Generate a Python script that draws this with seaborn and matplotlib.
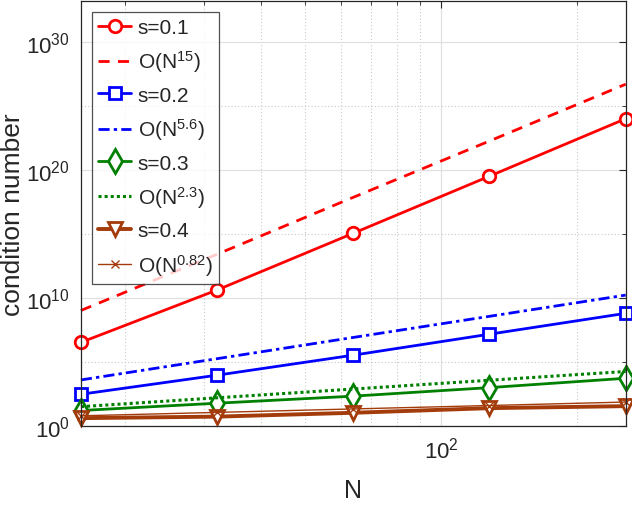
import numpy as np
import pandas as pd
import matplotlib
matplotlib.use("Agg")
import matplotlib.pyplot as plt
import seaborn as sns

# problem sizes
N = [16, 32, 64, 128, 256]

# condition numbers
cond_s01 = [3.2e6, 4.0e10, 1.1e15, 3.2e19, 1.0e24]
cond_s02 = [2.8e2, 8.7e3, 3.2e5, 1.4e7, 6.0e8]
cond_s03 = [15, 56, 200, 930, 5.0e3]
cond_s04 = [3.8, 5.0, 10, 23, 33]

# reference slopes
ref_15 = [1.0e9, 2.5e13, 7.1e17, 1.8e22, 5.0e26]
ref_56 = [3.7e3, 1.7e5, 7.8e6, 3.5e8, 1.6e10]
ref_23 = [30, 148, 720, 3.5e3, 1.7e4]
ref_082 = [5.8, 10.7, 20, 37, 69]

labels = ["s=0.1", r"O(N$^{15}$)", "s=0.2", r"O(N$^{5.6}$)",
          "s=0.3", r"O(N$^{2.3}$)", "s=0.4", r"O(N$^{0.82}$)"]

sns.set_style("white")
plt.rcParams["font.family"] = ["Liberation Sans", "DejaVu Sans"]
plt.rcParams["mathtext.fontset"] = "custom"
plt.rcParams["mathtext.rm"] = "Liberation Sans"
plt.rcParams["mathtext.it"] = "Liberation Sans"

red = "#ff0000"
blue = "#0000ff"
green = "#008000"
brown = "#a33b0b"

fig = plt.figure(figsize=(6.32, 5.06), dpi=100)
ax = fig.add_axes([0.128, 0.157, 0.862, 0.839])

series = [
    (cond_s01, dict(color=red, lw=2.0, marker="o", ms=9, mfc="white", mec=red, mew=2.0, ls="-")),
    (ref_15, dict(color=red, lw=2.0, ls=(0, (4, 3)))),
    (cond_s02, dict(color=blue, lw=2.0, marker="s", ms=8, mfc="white", mec=blue, mew=2.0, ls="-")),
    (ref_56, dict(color=blue, lw=2.0, ls=(0, (4, 1.5, 1.2, 1.5)))),
    (cond_s03, dict(color=green, lw=2.0, marker="d", ms=12, mfc="white", mec=green, mew=2.0, ls="-")),
    (ref_23, dict(color=green, lw=2.2, ls=(0, (1, 1)))),
    (cond_s04, dict(color=brown, lw=2.8, marker="v", ms=10, mfc="white", mec=brown, mew=2.0, ls="-")),
    (ref_082, dict(color=brown, lw=1.0, marker="x", ms=6, mec=brown, mew=1.0, ls="-")),
]

for (vals, style), lab in zip(series, labels):
    df = pd.DataFrame({"N": N, "cond": vals})
    sns.lineplot(data=df, x="N", y="cond", ax=ax, label=lab, clip_on=False, **style)

ax.set_xscale("log")
ax.set_yscale("log")
ax.set_xlim(16, 256)
ax.set_ylim(1, 1.6e33)

ax.set_yticks([1, 1e10, 1e20, 1e30])
ax.set_yticks([1e5, 1e15, 1e25], minor=True)
ax.yaxis.set_minor_formatter(matplotlib.ticker.NullFormatter())
ax.xaxis.set_minor_formatter(matplotlib.ticker.NullFormatter())

ax.grid(True, which="major", color="#e0e0e0", lw=0.9, ls="-")
ax.grid(True, which="minor", color="#c8c8c8", lw=0.8, ls=(0, (1, 2)))
ax.set_axisbelow(True)

ax.tick_params(which="both", direction="in", top=True, right=True,
               colors="#262626", labelcolor="#262626")
ax.tick_params(which="major", length=5, labelsize=16, pad=8)
ax.tick_params(which="minor", length=3)
for sp in ax.spines.values():
    sp.set_color("#262626")
    sp.set_linewidth(0.9)

ax.set_xlabel("N", fontsize=18, color="#262626", labelpad=11)
ax.set_ylabel("condition number", fontsize=19, color="#262626")
ax.yaxis.set_label_coords(-0.124, 0.5)
ax.yaxis.label.set_va("center")

leg = ax.legend(loc="upper left", bbox_to_anchor=(0.02, 0.975), borderaxespad=0,
                fontsize=15, handlelength=1.6, handletextpad=0.3, borderpad=0.3,
                labelspacing=0.55, frameon=True, fancybox=False)
leg.get_frame().set_edgecolor("#262626")
leg.get_frame().set_linewidth(0.9)

fig.savefig("out.png", dpi=100)
